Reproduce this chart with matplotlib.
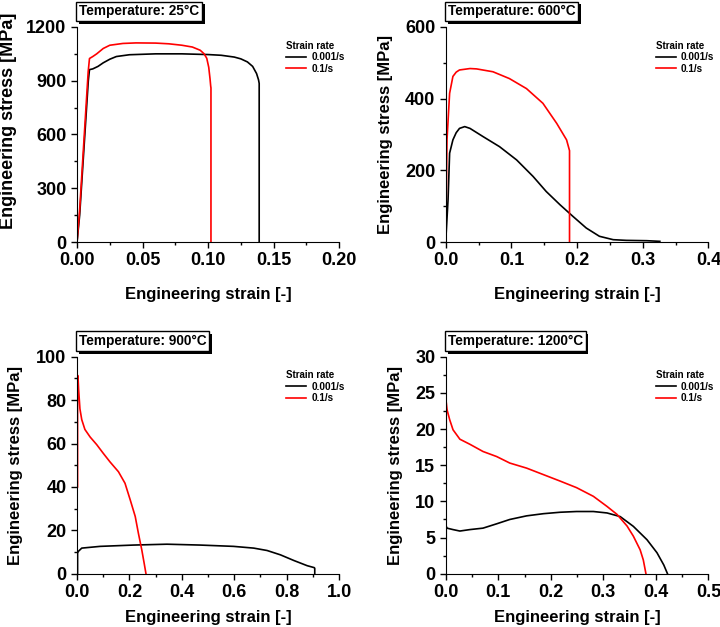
import matplotlib
matplotlib.use('Agg')
import matplotlib.pyplot as plt
from matplotlib.ticker import MultipleLocator, AutoMinorLocator
import matplotlib.patheffects as pe

plt.rcParams['font.family'] = ['Liberation Sans', 'DejaVu Sans']
plt.rcParams['font.weight'] = 'bold'

# --- data ---
rate_labels = ['0.001/s', '0.1/s']

# 25 C
t25_slow_x = [0, 0.002, 0.0086, 0.0095, 0.012, 0.016, 0.02, 0.025, 0.03, 0.04, 0.06, 0.08, 0.10,
              0.11, 0.12, 0.125, 0.13, 0.134, 0.137, 0.1385, 0.139, 0.139]
t25_slow_y = [0, 150, 900, 962, 966, 980, 1000, 1020, 1035, 1045, 1050, 1050, 1046,
              1042, 1032, 1022, 1005, 980, 940, 905, 885, 0]
t25_fast_x = [0, 0.002, 0.0085, 0.0095, 0.012, 0.015, 0.02, 0.025, 0.035, 0.045, 0.06, 0.07,
              0.08, 0.088, 0.094, 0.097, 0.099, 0.1005, 0.1015, 0.102, 0.1022, 0.1022]
t25_fast_y = [0, 180, 950, 1024, 1035, 1050, 1080, 1098, 1108, 1111, 1110, 1106,
              1098, 1088, 1070, 1050, 1025, 975, 910, 870, 860, 0]

# 600 C
t600_slow_x = [0, 0.0036, 0.006, 0.011, 0.016, 0.021, 0.029, 0.037, 0.057, 0.082, 0.108, 0.133,
               0.153, 0.174, 0.194, 0.214, 0.234, 0.255, 0.275, 0.306, 0.326]
t600_slow_y = [0, 118, 248, 285, 305, 317, 322, 317, 294, 266, 229, 183,
               141, 104, 71, 39, 16, 6.5, 4.6, 3.7, 1.9]
t600_fast_x = [0, 0.002, 0.006, 0.011, 0.016, 0.021, 0.037, 0.047, 0.072, 0.097, 0.123, 0.148,
               0.169, 0.184, 0.1885, 0.1885]
t600_fast_y = [0, 285, 415, 462, 474, 480, 484, 483, 475, 456, 428, 387,
               331, 285, 255, 0]

# 900 C
t900_slow_x = [0.002, 0.002, 0.005, 0.018, 0.088, 0.215, 0.343, 0.47, 0.597, 0.674, 0.725,
               0.776, 0.827, 0.878, 0.905, 0.907, 0.907]
t900_slow_y = [0, 9.5, 10.3, 11.8, 12.6, 13.2, 13.6, 13.2, 12.6, 11.8, 10.7,
               8.7, 6.1, 3.7, 2.8, 2.5, 0]
t900_fast_x = [0.002, 0.002, 0.004, 0.006, 0.011, 0.018, 0.03, 0.05, 0.075, 0.1, 0.126, 0.158,
               0.183, 0.203, 0.222, 0.234, 0.247, 0.256, 0.263]
t900_fast_y = [40, 91.5, 90, 85, 76, 71, 66.5, 63, 59.5, 55.5, 51.5, 47,
               41.7, 34, 26.4, 18.7, 11, 4.9, 0]

# 1200 C
t1200_slow_x = [0.001, 0.001, 0.0025, 0.014, 0.027, 0.046, 0.071, 0.097, 0.122, 0.154, 0.186,
                0.218, 0.249, 0.281, 0.307, 0.332, 0.357, 0.383, 0.402, 0.415, 0.422]
t1200_slow_y = [4.7, 6.55, 6.3, 6.1, 5.9, 6.1, 6.3, 6.9, 7.5, 8.0, 8.3,
                8.5, 8.6, 8.6, 8.4, 7.9, 6.55, 4.7, 2.9, 1.2, 0]
t1200_fast_x = [0.001, 0.001, 0.0025, 0.0076, 0.014, 0.027, 0.046, 0.071, 0.097, 0.122, 0.154,
                0.186, 0.218, 0.249, 0.281, 0.307, 0.326, 0.345, 0.357, 0.37, 0.376, 0.381]
t1200_fast_y = [17.2, 23.7, 22.7, 21.3, 19.9, 18.6, 17.9, 16.9, 16.2, 15.3, 14.6,
                13.7, 12.8, 11.9, 10.7, 9.3, 8.2, 6.6, 5.2, 3.3, 1.9, 0]

titles = ['Temperature: 25°C', 'Temperature: 600°C', 'Temperature: 900°C', 'Temperature: 1200°C']
xlims = [(0, 0.2), (0, 0.4), (0, 1.0), (0, 0.5)]
ylims = [(0, 1200), (0, 600), (0, 100), (0, 30)]
xsteps = [0.05, 0.1, 0.2, 0.1]
ysteps = [300, 200, 20, 5]
xfmts = ['{:.2f}', '{:.1f}', '{:.1f}', '{:.1f}']
curves = [
    (t25_slow_x, t25_slow_y, t25_fast_x, t25_fast_y),
    (t600_slow_x, t600_slow_y, t600_fast_x, t600_fast_y),
    (t900_slow_x, t900_slow_y, t900_fast_x, t900_fast_y),
    (t1200_slow_x, t1200_slow_y, t1200_fast_x, t1200_fast_y),
]

# axes rectangles in figure fractions (left, bottom, width, height)
rects = [(0.107, 0.614, 0.364, 0.343), (0.619, 0.614, 0.365, 0.343),
         (0.107, 0.085, 0.364, 0.346), (0.619, 0.085, 0.365, 0.346)]
ylabel_x = [-0.228, -0.20, -0.206, -0.163]
xlabel_y = [-0.21, -0.21, -0.165, -0.165]

fig = plt.figure(figsize=(7.2, 6.27), dpi=100)

for i in range(4):
    ax = fig.add_axes(rects[i])
    sx, sy, fx, fy = curves[i]
    ax.plot(sx, sy, color='black', lw=1.2, label=rate_labels[0])
    ax.plot(fx, fy, color='red', lw=1.2, label=rate_labels[1])
    ax.set_xlim(*xlims[i])
    ax.set_ylim(*ylims[i])
    ax.xaxis.set_major_locator(MultipleLocator(xsteps[i]))
    ax.yaxis.set_major_locator(MultipleLocator(ysteps[i]))
    ax.xaxis.set_minor_locator(AutoMinorLocator(2))
    ax.yaxis.set_minor_locator(AutoMinorLocator(2))
    fmt = xfmts[i]
    ax.xaxis.set_major_formatter(plt.FuncFormatter(lambda v, p, f=fmt: f.format(v)))
    ax.spines['top'].set_visible(False)
    ax.spines['right'].set_visible(False)
    ax.tick_params(which='major', direction='out', length=4.5, width=1, labelsize=13, pad=3)
    ax.tick_params(which='minor', direction='out', length=2.5, width=1)
    for lab in ax.get_xticklabels() + ax.get_yticklabels():
        lab.set_fontweight('bold')
    ax.set_xlabel('Engineering strain [-]', fontsize=12, fontweight='bold')
    ax.set_ylabel('Engineering stress [MPa]', fontsize=13.0 if i == 0 else 12, fontweight='bold')
    ax.xaxis.set_label_coords(0.5, xlabel_y[i])
    ax.yaxis.set_label_coords(ylabel_x[i], 0.563 if i == 0 else 0.5)

    # title box with a drop shadow
    t = ax.text(0.008, 1.04, titles[i], transform=ax.transAxes, fontsize=9.8, fontweight='bold',
                ha='left', va='bottom', color='black', zorder=6, clip_on=False,
                bbox=dict(boxstyle='square,pad=0.2', lw=1, ec='black', fc='white'))
    t.get_bbox_patch().set_path_effects([
        pe.SimplePatchShadow(offset=(2, -2), shadow_rgbFace='black', alpha=1.0),
        pe.Normal()])

    leg = ax.legend(title='Strain rate', loc='upper left', bbox_to_anchor=(0.78, 0.96),
                    frameon=False, fontsize=7.2, title_fontsize=7, handlelength=2.0,
                    handletextpad=0.5, borderpad=0, labelspacing=0.15, alignment='left')
    leg.get_title().set_fontweight('bold')

fig.savefig('out.png', dpi=100)
